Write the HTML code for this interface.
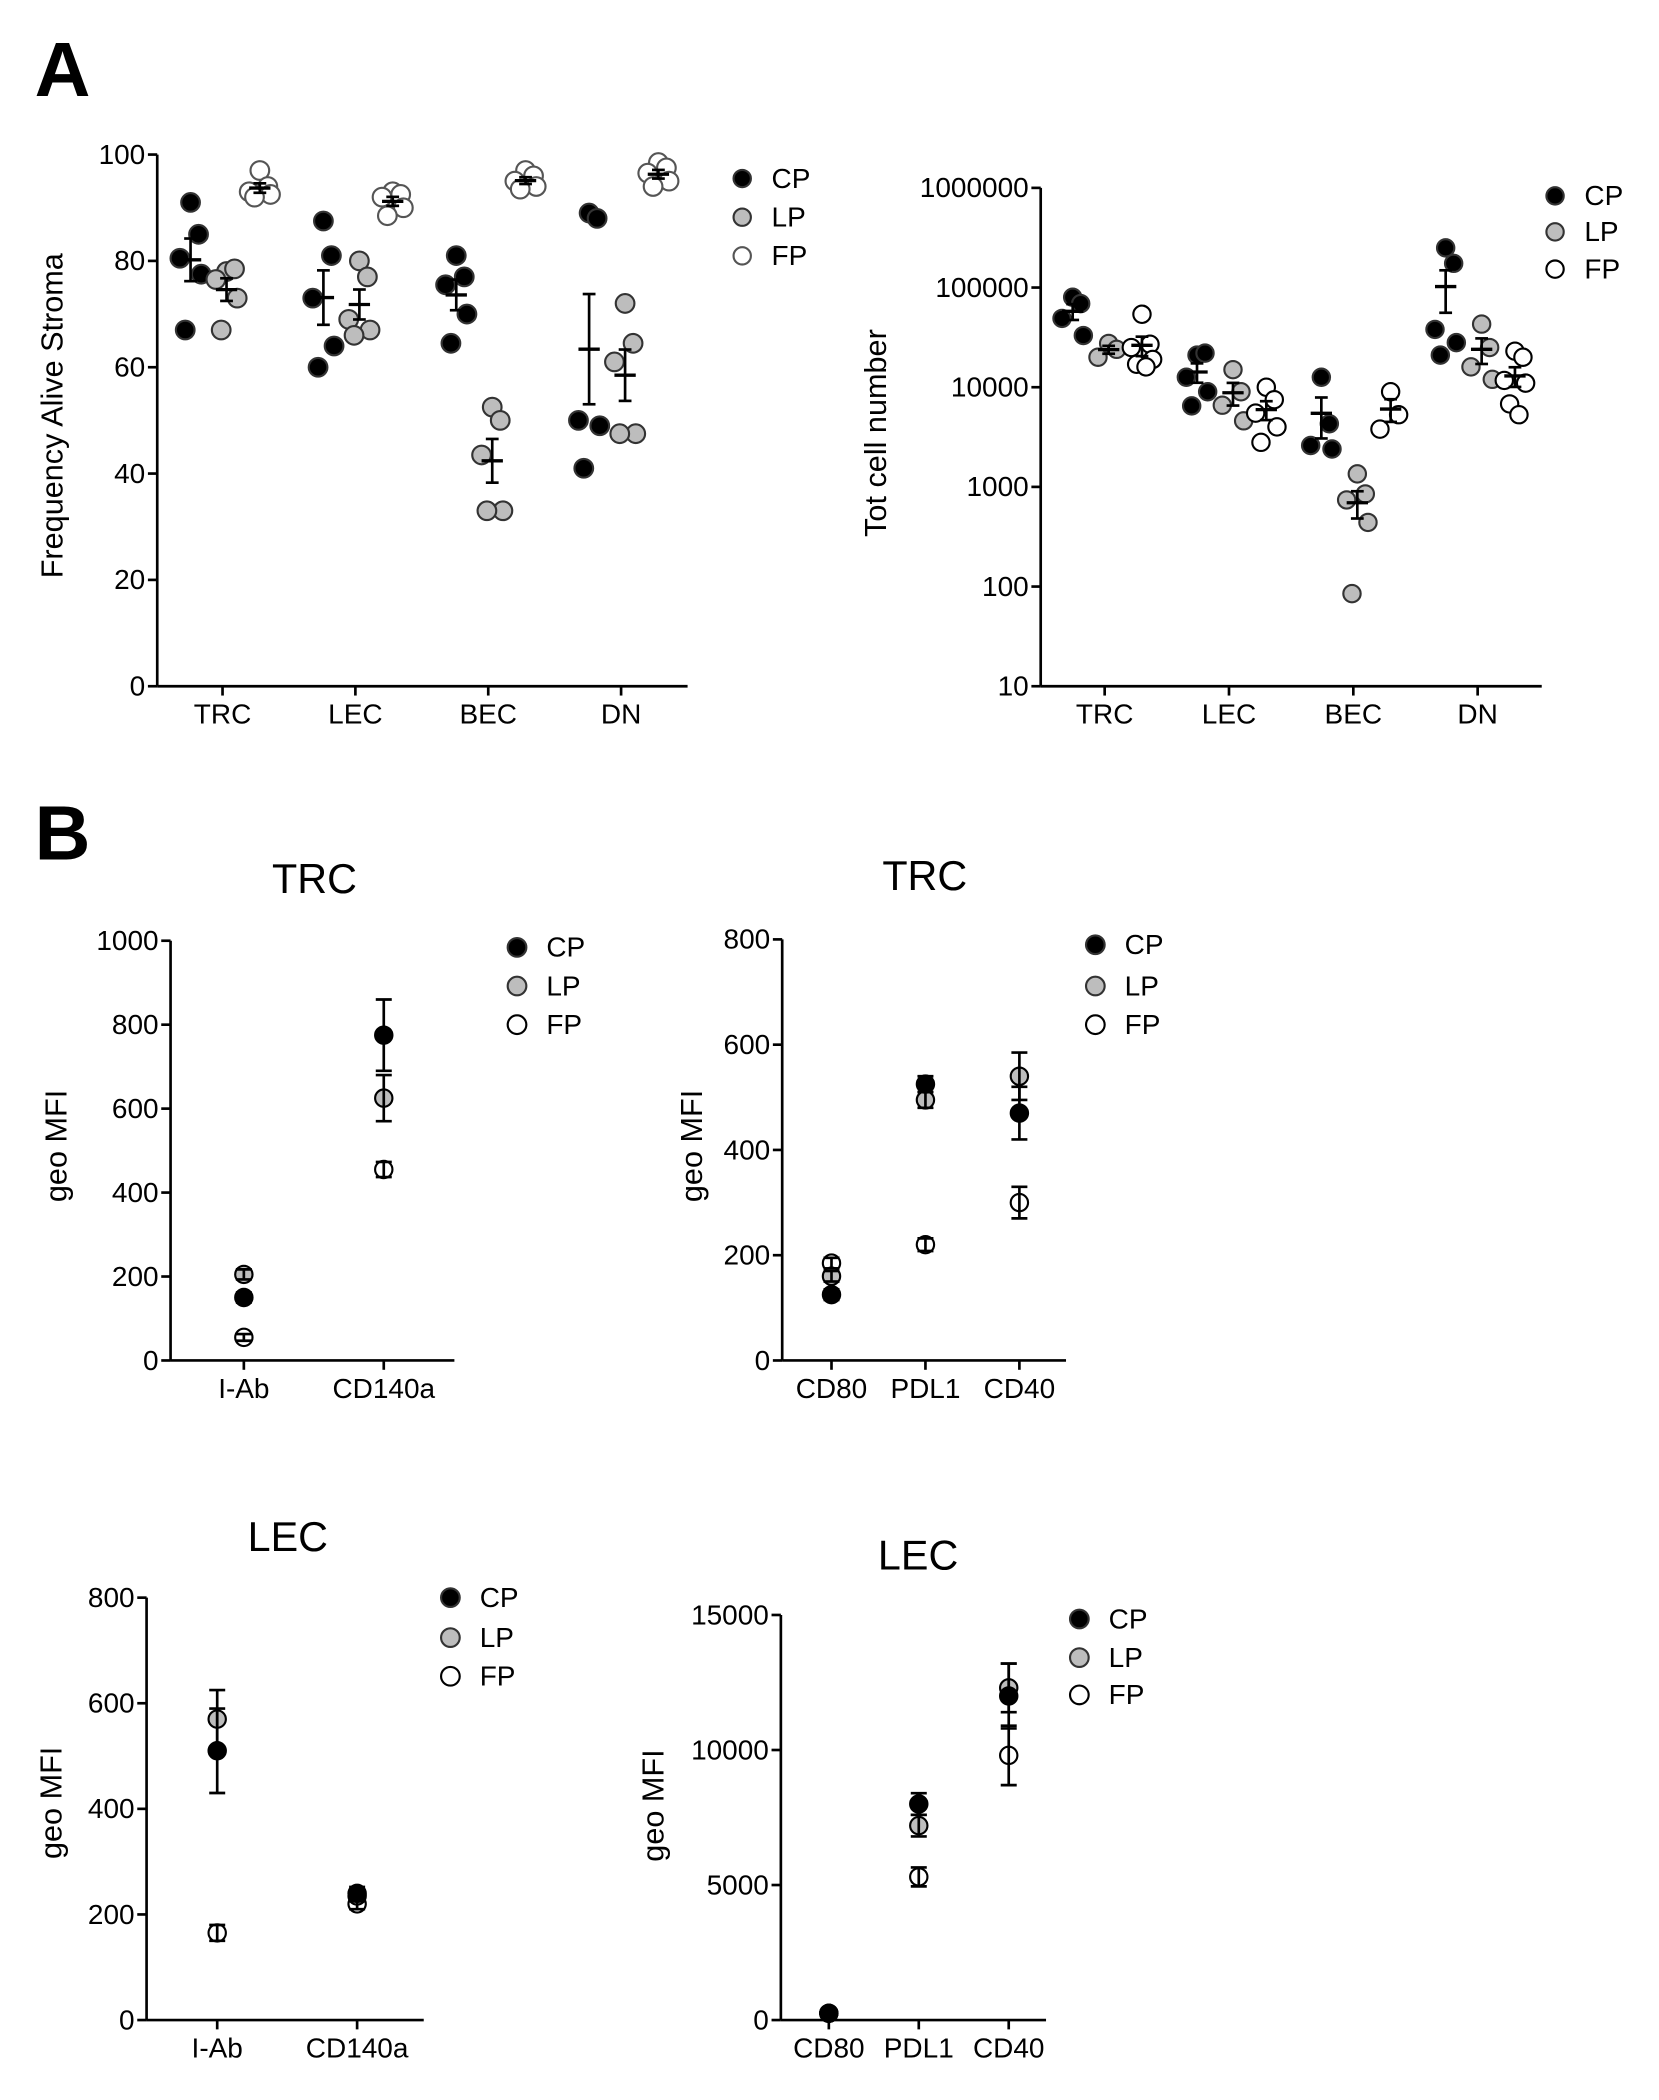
<!DOCTYPE html>
<html><head><meta charset="utf-8"><style>
html,body{margin:0;padding:0;background:#fff;}
svg{display:block;font-family:"Liberation Sans",Arial,sans-serif;}
</style></head><body>
<svg id="fig" width="1659" height="2100" viewBox="0 0 1245 1576" preserveAspectRatio="none" xmlns="http://www.w3.org/2000/svg">
<text x="26" y="72" font-size="58" font-weight="bold">A</text>
<text x="26" y="645" font-size="58" font-weight="bold">B</text>
</svg>
<script>
// ---------- Panel A left: frequency ----------
const aCats = ["TRC","LEC","BEC","DN"];
const aFreqCP = [[91,85,80.5,77.5,67],[87.5,81,73,64,60],[81,77,75.5,70,64.5],[89,88,50,49,41]];
const aFreqLP = [[78,78.5,76.5,73,67],[80,77,69,67,66],[52.5,50,43.5,33,33],[72,64.5,61,47.5,47.5]];
const aFreqFP = [[97,94,93,92.5,92],[93,92.5,92,90,88.5],[97,96,95,94,93.5],[98.5,97.5,96.5,95,94]];
const aFreqTicks = [0,20,40,60,80,100];
// ---------- Panel A right: total cell number ----------
const aTotCP = [[80000,69000,49000,33000],[21000,22000,12600,9000,6500],[12600,4300,2600,2400],[250000,175000,38000,28000,21000]];
const aTotLP = [[27500,24000,20000],[15000,9000,6600,4600],[1350,850,740,440,85],[43000,25000,16000,12000]];
const aTotFP = [[54000,27000,25000,19000,17000,16000],[10000,7500,5500,4000,2800],[9000,5300,3800],[23000,20000,11700,11000,6800,5300]];
const aTotTicks = [10,100,1000,10000,100000,1000000];
// jitter offsets (px) per dot index
const jitter = [0,6,-8,8,-4,3];
// ---------- Panel B ----------
const bTrc1Cats = ["I-Ab","CD140a"];
const bTrc1Mean = {CP:[150,775], LP:[205,625], FP:[55,455]};
const bTrc1Sem  = {CP:[12,85], LP:[12,55], FP:[8,18]};
const bTrc1Ticks = [0,200,400,600,800,1000];
const bTrc2Cats = ["CD80","PDL1","CD40"];
const bTrc2Mean = {CP:[125,525,470], LP:[160,495,540], FP:[185,220,300]};
const bTrc2Sem  = {CP:[10,15,50], LP:[10,15,45], FP:[10,12,30]};
const bTrc2Ticks = [0,200,400,600,800];
const bLec1Cats = ["I-Ab","CD140a"];
const bLec1Mean = {CP:[510,240], LP:[570,235], FP:[165,220]};
const bLec1Sem  = {CP:[80,12], LP:[55,10], FP:[15,10]};
const bLec1Ticks = [0,200,400,600,800];
const bLec2Cats = ["CD80","PDL1","CD40"];
const bLec2Mean = {CP:[250,8000,12000], LP:[250,7200,12300], FP:[250,5300,9800]};
const bLec2Sem  = {CP:[50,400,1200], LP:[50,400,900], FP:[50,350,1100]};
const bLec2Ticks = [0,5000,10000,15000];

const NS="http://www.w3.org/2000/svg";
const svg=document.getElementById('fig');
const FILL={CP:"#000",LP:"#bdbdbd",FP:"#fff"};
function el(tag,attrs,parent){const e=document.createElementNS(NS,tag);for(const k in attrs)e.setAttribute(k,attrs[k]);(parent||svg).appendChild(e);return e;}
function txt(x,y,s,size,anchor,parent){const t=el('text',{x:x,y:y,'font-size':size,'text-anchor':anchor||'start'},parent);t.textContent=s;return t;}

function axes(g,x0,x1,y0,y1,ticks,yfn,cats,xfn,ytitle,tx,ty){
  const ax=el('line',{x1:x0,y1:y0,x2:x0,y2:y1,stroke:'#000','stroke-width':2},g);
  
  
  const bx=el('line',{x1:x0,y1:y0,x2:x1,y2:y0,stroke:'#000','stroke-width':2},g);
  
  
  ticks.forEach(v=>{const y=yfn(v);el('line',{x1:x0-7,y1:y,x2:x0,y2:y,stroke:'#000','stroke-width':2},g);
    const t=txt(x0-9,y+7,String(v),21,'end',g);
    
    });
  cats.forEach((c,i)=>{const x=xfn(i);el('line',{x1:x,y1:y0,x2:x,y2:y0+7,stroke:'#000','stroke-width':2},g);
    const t=txt(x,y0+28,c,21,'middle',g);
    
    });
  const yt=txt(0,0,ytitle,23,'middle',g);
  yt.setAttribute('transform','translate('+tx+','+ty+') rotate(-90)');
  
  
}
function legend(g,x,ys,r,stroke){
  ["CP","LP","FP"].forEach((k,i)=>{
    const c=el('circle',{cx:x,cy:ys[i],r:r,fill:FILL[k],stroke:k==='FP'?stroke:'#333','stroke-width':1.6},g);
    
    
    const t=txt(x+22,ys[i]+7,k,21,'start',g);
    
    
  });
}
function meanSem(v){
  const n=v.length;const m=v.reduce((a,b)=>a+b,0)/n;
  const sd=Math.sqrt(v.reduce((a,b)=>a+(b-m)*(b-m),0)/(n-1));const s=sd/Math.sqrt(n);
  return [m,m+s,Math.max(m-s,m*0.05)];
}
function errbar(g,x,ym,yh,yl,w){
  el('line',{x1:x,y1:yh,x2:x,y2:yl,stroke:'#000','stroke-width':2},g);
  el('line',{x1:x-w*0.6,y1:yh,x2:x+w*0.6,y2:yh,stroke:'#000','stroke-width':2},g);
  el('line',{x1:x-w*0.6,y1:yl,x2:x+w*0.6,y2:yl,stroke:'#000','stroke-width':2},g);
  el('line',{x1:x-w,y1:ym,x2:x+w,y2:ym,stroke:'#000','stroke-width':2.5},g);
}
function scatter(g,series,xfn,yfn,r,fpStroke){
  const offs={CP:-24,LP:3,FP:28};
  for(const k in series){series[k].forEach((arr,ci)=>{
    const cx=xfn(ci)+offs[k];
    arr.forEach((v,j)=>{const d=el('circle',{cx:cx+jitter[j%jitter.length],cy:yfn(v),r:r,fill:FILL[k],stroke:k==='FP'?fpStroke:'#333','stroke-width':1.6},g);
      
      });
    const ms=meanSem(arr);errbar(g,cx,yfn(ms[0]),yfn(ms[1]),yfn(ms[2]),8);
  });}
}
// Panel A left
(function(){
  const g=el('g',{});
  const yfn=v=>515-v*3.99, xfn=i=>167+i*99.7;
  axes(g,118,516,515,116,aFreqTicks,yfn,aCats,xfn,'Frequency Alive Stroma',47,312);
  scatter(g,{CP:aFreqCP,LP:aFreqLP,FP:aFreqFP},xfn,yfn,7,'#555');
  legend(g,557,[134,163,192],6.5,'#555');
})();
// Panel A right
(function(){
  const g=el('g',{});
  const yfn=v=>141+(6-Math.log10(v))*74.8, xfn=i=>829+i*93.3;
  axes(g,781,1157,515,141,aTotTicks,yfn,aCats,xfn,'Tot cell number',665,325);
  scatter(g,{CP:aTotCP,LP:aTotLP,FP:aTotFP},xfn,yfn,6.5,'#000');
  legend(g,1167,[147,174,202],6.5,'#000');
})();
// Panel B charts
function bChart(name,title,tx,ty,x0,x1,y0,y1,ymax,ticks,cats,cx0,dx,mean,sem,ytx,yty,lx,ly){
  const g=el('g',{});
  const tt=txt(tx,ty,title,31,'middle',g);
  
  
  const yfn=v=>y0-(v/ymax)*(y0-y1), xfn=i=>cx0+i*dx;
  axes(g,x0,x1,y0,y1,ticks,yfn,cats,xfn,'geo MFI',ytx,yty);
  ["FP","LP","CP"].forEach(k=>{mean[k].forEach((m,i)=>{
    const x=xfn(i);
    const c=el('circle',{cx:x,cy:yfn(m),r:6.5,fill:FILL[k],stroke:'#000','stroke-width':1.6},g);
    
    
  });});
  ["FP","LP","CP"].forEach(k=>{mean[k].forEach((m,i)=>{
    const x=xfn(i);
    el('line',{x1:x,y1:yfn(m+sem[k][i]),x2:x,y2:yfn(m-sem[k][i]),stroke:'#000','stroke-width':2},g);
    el('line',{x1:x-6,y1:yfn(m+sem[k][i]),x2:x+6,y2:yfn(m+sem[k][i]),stroke:'#000','stroke-width':2},g);
    el('line',{x1:x-6,y1:yfn(m-sem[k][i]),x2:x+6,y2:yfn(m-sem[k][i]),stroke:'#000','stroke-width':2},g);
  });});
  legend(g,lx,ly,7,'#000');
}
bChart('trc-mfi-chart-1','TRC',236,670,128,341,1021,706,1000,bTrc1Ticks,bTrc1Cats,183,105,bTrc1Mean,bTrc1Sem,50,860,388,[711,740,769]);
bChart('trc-mfi-chart-2','TRC',694,668,587,800,1021,705,800,bTrc2Ticks,bTrc2Cats,624,70.5,bTrc2Mean,bTrc2Sem,527,860,822,[709,740,769]);
bChart('lec-mfi-chart-1','LEC',216,1164,110,318,1516,1199,800,bLec1Ticks,bLec1Cats,163,105,bLec1Mean,bLec1Sem,46,1353,338,[1199,1229,1258]);
bChart('lec-mfi-chart-2','LEC',689,1178,586,785,1516,1212,15000,bLec2Ticks,bLec2Cats,622,67.5,bLec2Mean,bLec2Sem,498,1355,810,[1215,1244,1272]);
</script>
</body></html>
